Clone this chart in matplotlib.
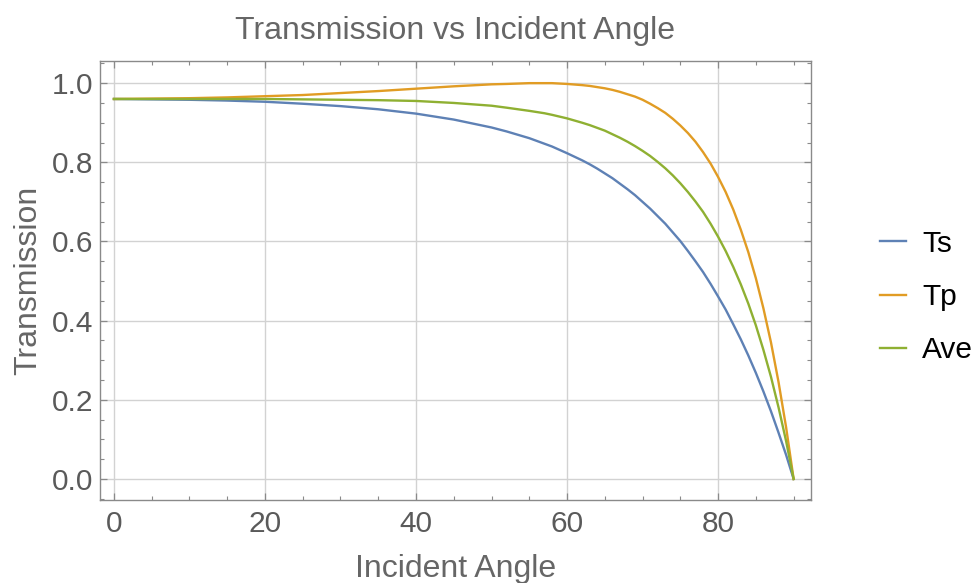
import numpy as np
import matplotlib.pyplot as plt
from matplotlib.ticker import MultipleLocator

# incident angle (degrees) and transmission values
angle = [0, 10, 15, 20, 25, 30, 35, 40, 45, 50,
         52, 55, 57, 58, 60, 62, 63, 64, 65, 66,
         67, 68, 69, 70, 71, 72, 73, 74, 75, 76,
         77, 78, 79, 80, 81, 82, 83, 84, 85, 86,
         87, 88, 89, 90]
ts = [0.960, 0.958, 0.956, 0.953, 0.948, 0.942, 0.934, 0.923, 0.908, 0.888,
      0.878, 0.861, 0.847, 0.840, 0.823, 0.805, 0.795, 0.784, 0.772, 0.760,
      0.746, 0.732, 0.717, 0.700, 0.683, 0.664, 0.645, 0.623, 0.601, 0.576,
      0.550, 0.523, 0.493, 0.461, 0.428, 0.391, 0.353, 0.312, 0.268, 0.221,
      0.171, 0.117, 0.061, 0.0]
tp = [0.960, 0.962, 0.964, 0.967, 0.970, 0.975, 0.980, 0.986, 0.992, 0.997,
      0.998, 1.000, 1.000, 1.000, 0.998, 0.995, 0.993, 0.990, 0.987, 0.983,
      0.978, 0.972, 0.966, 0.958, 0.948, 0.937, 0.925, 0.910, 0.893, 0.874,
      0.852, 0.826, 0.797, 0.763, 0.725, 0.681, 0.630, 0.573, 0.507, 0.431,
      0.345, 0.245, 0.131, 0.0]
ave = [0.960, 0.960, 0.960, 0.960, 0.959, 0.958, 0.957, 0.955, 0.950, 0.943,
       0.938, 0.930, 0.924, 0.920, 0.911, 0.900, 0.894, 0.887, 0.880, 0.871,
       0.862, 0.852, 0.841, 0.829, 0.816, 0.801, 0.785, 0.767, 0.747, 0.725,
       0.701, 0.675, 0.645, 0.612, 0.576, 0.536, 0.492, 0.443, 0.388, 0.326,
       0.258, 0.181, 0.096, 0.0]

plt.rcParams['font.family'] = ['Liberation Sans', 'DejaVu Sans']

blue = '#5e81b5'
orange = '#e19c24'
green = '#8fb032'
gray = '#5a5a5a'

fig = plt.figure(figsize=(9.79, 5.83), dpi=100)
ax = fig.add_axes([0.1021, 0.1424, 0.7263, 0.7530])

ax.plot(angle, ts, color=blue, lw=1.7, label='Ts')
ax.plot(angle, tp, color=orange, lw=1.7, label='Tp')
ax.plot(angle, ave, color=green, lw=1.7, label='Ave')

ax.set_xlim(-1.85, 92.3)
ax.set_ylim(-0.053, 1.056)
ax.xaxis.set_major_locator(MultipleLocator(20))
ax.xaxis.set_minor_locator(MultipleLocator(5))
ax.yaxis.set_major_locator(MultipleLocator(0.2))
ax.yaxis.set_minor_locator(MultipleLocator(0.05))
ax.yaxis.set_major_formatter(plt.FormatStrFormatter('%.1f'))

ax.grid(True, which='major', color='#d2d2d2', lw=1.0)
ax.set_axisbelow(True)

for s in ax.spines.values():
    s.set_color('#8a8a8a')
    s.set_linewidth(1.0)

ax.tick_params(which='both', direction='in', top=True, right=True,
               color='#8a8a8a', labelcolor=gray, labelsize=21.5)
ax.tick_params(which='major', length=5, width=0.9)
ax.tick_params(which='minor', length=3, width=0.8)
ax.tick_params(axis='x', pad=7)
ax.tick_params(axis='y', pad=5)

ax.set_xlabel('Incident Angle', fontsize=23, color='#666666', labelpad=12)
ax.set_ylabel('Transmission', fontsize=23, color='#666666', labelpad=6)
ax.set_title('Transmission vs Incident Angle', fontsize=23, color='#666666', pad=16)

fig.legend(loc='center left', bbox_to_anchor=(0.8989, 0.4906), frameon=False,
           fontsize=21.5, handlelength=0.87, handletextpad=0.55,
           labelspacing=0.85, borderpad=0, borderaxespad=0)

fig.savefig('out.png', dpi=100)
